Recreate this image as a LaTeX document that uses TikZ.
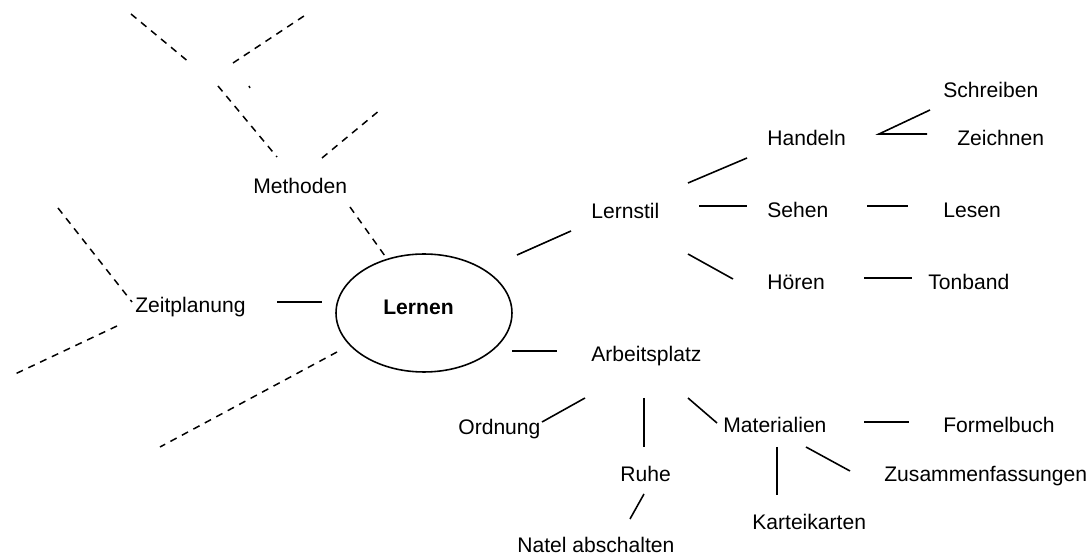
\documentclass[tikz,border=0pt]{standalone}
\usepackage{fontspec}
\setmainfont{Liberation Sans}
\usetikzlibrary{shapes.geometric}

\tikzset{
  word/.style={anchor=base west, inner sep=0pt, font=\fontsize{12}{14}\selectfont},
  twig/.style={line width=0.9pt},
  dashtwig/.style={line width=0.85pt, dash pattern=on 4pt off 3.4pt},
}

\begin{document}
\begin{tikzpicture}[x=0.02cm, y=-0.02cm]
  \useasboundingbox (0,0) rectangle (1090,557);

  % centre
  \node[draw, ellipse, line width=0.9pt, minimum width=3.52cm, minimum height=2.36cm] (lernen) at (424,313) {};
  \node[word, font=\fontsize{12}{14}\selectfont\bfseries] (lernentxt) at (383,315) {Lernen};

  % left side
  \node[word] (methoden) at (253,193.5) {Methoden};
  \node[word] (zeit) at (135,313) {Zeitplanung};

  % Lernstil
  \node[word] (lernstil) at (591,219) {Lernstil};
  \node[word] (handeln) at (767,146) {Handeln};
  \node[word] (schreiben) at (943,98) {Schreiben};
  \node[word] (zeichnen) at (957,146) {Zeichnen};
  \node[word] (sehen) at (767,218) {Sehen};
  \node[word] (lesen) at (943,218) {Lesen};
  \node[word] (hoeren) at (767,290) {Hören};
  \node[word] (tonband) at (928,290) {Tonband};

  % Arbeitsplatz
  \node[word] (arbeit) at (591,362) {Arbeitsplatz};
  \node[word] (ordnung) at (458,435) {Ordnung};
  \node[word] (ruhe) at (620,482) {Ruhe};
  \node[word] (natel) at (517,553) {Natel abschalten};
  \node[word] (material) at (723,433) {Materialien};
  \node[word] (formel) at (943,433) {Formelbuch};
  \node[word] (zusammen) at (884,482) {Zusammenfassungen};
  \node[word] (kartei) at (752,530) {Karteikarten};

  % free ends of the twigs
  \coordinate (m1a) at (131,14);  \coordinate (m1b) at (190,63);
  \coordinate (m2a) at (233,63);  \coordinate (m2b) at (307,14);
  \coordinate (dot1) at (249,86); \coordinate (dot2) at (250,88);
  \coordinate (m3a) at (218,86);  \coordinate (m3b) at (277,157);
  \coordinate (m4a) at (322,158); \coordinate (m4b) at (380,110);
  \coordinate (ml1) at (350,207); \coordinate (ml2) at (385,256);
  \coordinate (z1a) at (58,208);  \coordinate (z1b) at (132,302);
  \coordinate (z2a) at (117,326); \coordinate (z2b) at (13,375);
  \coordinate (lx1) at (337,352); \coordinate (lx2) at (160,447);

  \coordinate (zl1) at (277,302); \coordinate (zl2) at (322,302);
  \coordinate (ls1) at (517,255); \coordinate (ls2) at (571,231);
  \coordinate (la1) at (512,351); \coordinate (la2) at (557,351);
  \coordinate (sh1) at (688,183); \coordinate (sh2) at (747,158);
  \coordinate (ss1) at (699,206); \coordinate (ss2) at (747,206);
  \coordinate (sr1) at (688,254); \coordinate (sr2) at (733,279);
  \coordinate (hs) at (930,110);  \coordinate (hh) at (879,134);
  \coordinate (hz) at (927,134);
  \coordinate (sl1) at (867,206); \coordinate (sl2) at (908,206);
  \coordinate (ht1) at (864,278); \coordinate (ht2) at (912,278);
  \coordinate (ao1) at (585,398); \coordinate (ao2) at (542,422);
  \coordinate (ar1) at (644,398); \coordinate (ar2) at (644,447);
  \coordinate (am1) at (688,398); \coordinate (am2) at (717,423);
  \coordinate (rn1) at (644,494); \coordinate (rn2) at (630,519);
  \coordinate (mf1) at (864,422); \coordinate (mf2) at (909,422);
  \coordinate (mk1) at (777,447); \coordinate (mk2) at (777,495);
  \coordinate (mz1) at (806,447); \coordinate (mz2) at (850,471);

  % dashed twigs
  \draw[dashtwig] (m1a) -- (m1b);
  \draw[dashtwig] (m2a) -- (m2b);
  \draw[line width=0.85pt] (dot1) -- (dot2);
  \draw[dashtwig] (m3a) -- (m3b);
  \draw[dashtwig] (m4a) -- (m4b);
  \draw[dashtwig] (ml1) -- (ml2);
  \draw[dashtwig] (z1a) -- (z1b);
  \draw[dashtwig] (z2a) -- (z2b);
  \draw[dashtwig] (lx1) -- (lx2);

  % solid twigs
  \draw[twig] (zl1) -- (zl2);
  \draw[twig] (ls1) -- (ls2);
  \draw[twig] (la1) -- (la2);
  \draw[twig] (sh1) -- (sh2);
  \draw[twig] (ss1) -- (ss2);
  \draw[twig] (sr1) -- (sr2);
  \draw[twig] (hs) -- (hh) -- (hz);
  \draw[twig] (sl1) -- (sl2);
  \draw[twig] (ht1) -- (ht2);
  \draw[twig] (ao1) -- (ao2);
  \draw[twig] (ar1) -- (ar2);
  \draw[twig] (am1) -- (am2);
  \draw[twig] (rn1) -- (rn2);
  \draw[twig] (mf1) -- (mf2);
  \draw[twig] (mk1) -- (mk2);
  \draw[twig] (mz1) -- (mz2);
\end{tikzpicture}
\end{document}
